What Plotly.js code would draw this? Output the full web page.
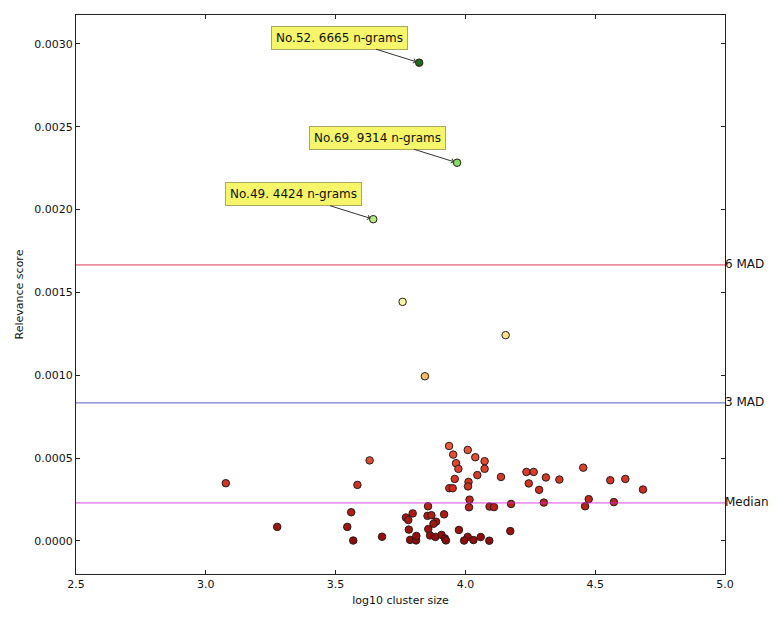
<!DOCTYPE html>
<html>
<head>
<meta charset="utf-8">
<script src="https://cdn.plot.ly/plotly-3.0.1.min.js"></script>
<style>
  html, body { margin: 0; padding: 0; background: #ffffff; }
  #chart { width: 777px; height: 620px; }
</style>
</head>
<body>
<div id="chart"></div>
<script>
// log10 cluster size
const clusterSize = [
  3.077, 3.275, 3.631, 3.584, 3.560, 3.545, 3.568, 3.679, 3.937, 3.953,
  3.964, 3.973, 3.959, 3.938, 3.951, 3.856, 3.771, 3.780, 3.797, 3.854,
  3.869, 3.918, 3.887, 3.877, 3.782, 3.857, 3.864, 3.884, 3.908, 3.921,
  3.925, 3.787, 3.810, 3.811, 3.975, 4.009, 4.038, 4.074, 4.074, 4.046,
  4.012, 4.010, 4.137, 4.235, 4.263, 4.244, 4.310, 4.362, 4.284, 4.454,
  4.558, 4.616, 4.684, 4.016, 4.014, 4.093, 4.110, 4.176, 4.302, 4.475,
  4.461, 4.572, 4.009, 3.995, 4.031, 4.059, 4.092, 4.173,
  3.758, 4.155, 3.844, 3.645, 3.968, 3.822
];
// relevance score
const relevance = [
  0.000348, 0.0000845, 0.000486, 0.000338, 0.000173, 0.0000845, 0.000002, 0.000025, 0.000573, 0.000521,
  0.000469, 0.000435, 0.000374, 0.000318, 0.000318, 0.000209, 0.000141, 0.000126, 0.000166, 0.000151,
  0.000155, 0.000160, 0.000116, 0.000103, 0.000068, 0.000071, 0.000033, 0.000024, 0.000036, 0.000015,
  0.000003, 0.000006, 0.000003, 0.000030, 0.000066, 0.000549, 0.000505, 0.000481, 0.000435, 0.000397,
  0.000356, 0.000329, 0.000386, 0.000416, 0.000416, 0.000347, 0.000383, 0.000370, 0.000308, 0.000442,
  0.000366, 0.000374, 0.000310, 0.000249, 0.000203, 0.000207, 0.000204, 0.000223, 0.000231, 0.000252,
  0.000209, 0.000234, 0.000024, 0.000002, 0.000005, 0.000023, 0.000001, 0.000059,
  0.001443, 0.001242, 0.000994, 0.001942, 0.002283, 0.002887
];
// annotated clusters (index into the arrays above) and their labels
const labelIndex = [73, 72, 71];
const labelText = ['No.52. 6665 n-grams', 'No.69. 9314 n-grams', 'No.49. 4424 n-grams'];
// reference lines
const refNames = ['6 MAD', '3 MAD', 'Median'];
const refValues = [0.001666, 0.000833, 0.000229];
const refColors = ['rgba(220,30,70,0.9)', 'rgba(60,60,180,0.85)', 'rgba(210,40,210,0.85)'];
// axis ticks
const xTicks = [2.5, 3.0, 3.5, 4.0, 4.5, 5.0];
const yTicks = [0, 0.0005, 0.001, 0.0015, 0.002, 0.0025, 0.003];

const redYellowGreen = [
  [0.0, '#8e0c0c'], [0.1, '#c82a1e'], [0.2, '#ec5a3a'], [0.3, '#f7a45a'],
  [0.4, '#f8e07c'], [0.5, '#fafaa8'], [0.6, '#d4f08a'], [0.7, '#a8e878'],
  [0.8, '#7cdc5a'], [0.9, '#40a838'], [1.0, '#1c6e1c']
];

const font = 'DejaVu Sans, sans-serif';

const trace = {
  type: 'scatter',
  mode: 'markers',
  x: clusterSize,
  y: relevance,
  marker: {
    size: 7.5,
    color: relevance,
    colorscale: redYellowGreen,
    cmin: Math.min(...relevance),
    cmax: Math.max(...relevance),
    line: { color: '#2a1a1a', width: 1 }
  },
  hoverinfo: 'x+y',
  showlegend: false
};

const shapes = refValues.map((v, i) => ({
  type: 'line', xref: 'paper', x0: 0, x1: 1, yref: 'y', y0: v, y1: v,
  line: { color: refColors[i], width: 1 }, layer: 'above'
}));

const annotations = refValues.map((v, i) => ({
  xref: 'paper', x: 1, xanchor: 'left', xshift: -2, yref: 'y', y: v, yanchor: 'bottom', yshift: -8,
  text: refNames[i], showarrow: false,
  font: { family: font, size: 12, color: '#111111' }
}));

labelIndex.forEach((idx, i) => {
  annotations.push({
    x: clusterSize[idx], y: relevance[idx], xref: 'x', yref: 'y',
    text: labelText[i], showarrow: true, ax: -80, ay: -25,
    arrowhead: 4, arrowsize: 0.9, arrowwidth: 1, arrowcolor: '#333333', standoff: 3,
    bgcolor: '#f6f66a', bordercolor: '#a8a860', borderwidth: 1, borderpad: 4,
    font: { family: font, size: 12, color: '#111111' }
  });
});

const axisCommon = {
  showline: true, linecolor: '#222222', linewidth: 1, mirror: 'allticks',
  ticks: 'inside', ticklen: 4, tickcolor: '#222222', showgrid: false, zeroline: false,
  tickfont: { family: font, size: 11, color: '#111111' }
};

const layout = {
  width: 777, height: 620,
  margin: { l: 76, r: 52, t: 15, b: 46 },
  paper_bgcolor: '#ffffff', plot_bgcolor: '#ffffff',
  xaxis: Object.assign({}, axisCommon, {
    range: [2.5, 5.0], tickvals: xTicks, tickformat: '.1f',
    title: { text: 'log10 cluster size', font: { family: font, size: 11, color: '#111111' }, standoff: 6 }
  }),
  yaxis: Object.assign({}, axisCommon, {
    range: [-0.0002, 0.003175], tickvals: yTicks, tickformat: '.4f',
    title: { text: 'Relevance score', font: { family: font, size: 11, color: '#111111' }, standoff: 8 }
  }),
  shapes: shapes,
  annotations: annotations
};

Plotly.newPlot('chart', [trace], layout, { displayModeBar: false, staticPlot: true });
</script>
</body>
</html>
